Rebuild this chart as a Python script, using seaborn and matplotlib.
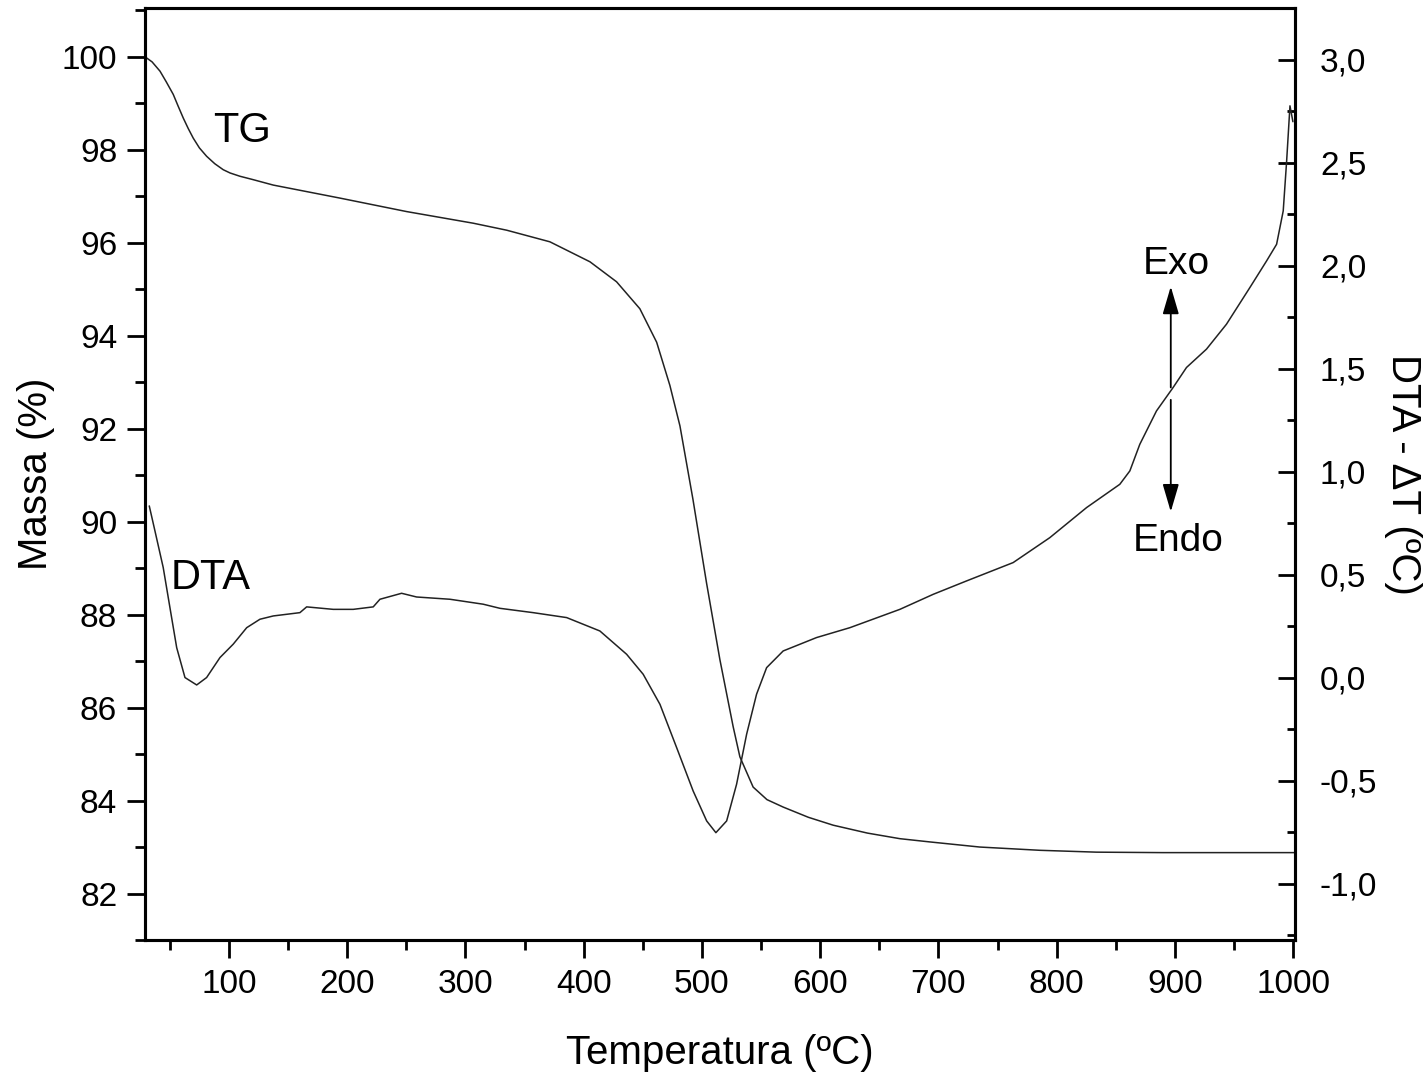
import numpy as np
import pandas as pd
import matplotlib
matplotlib.use("Agg")
import matplotlib.pyplot as plt
import seaborn as sns
from matplotlib.ticker import MultipleLocator, FuncFormatter

# TG curve (mass %)
temp_tg = [29.0, 35.0, 41.7, 47.0, 52.9, 57.0, 61.4, 65.5, 69.8, 75.0, 81.1, 88.0, 95.2,
           101.0, 109.3, 120.0, 137.5, 193.9, 250.3,
           306.6, 334.8, 371.4, 405.3, 427.8, 447.5, 461.7, 472.9, 481.4, 492.4,
           503.9, 515.2, 526.4, 532.1, 543.3, 555.0, 568.7, 590.0, 611.0, 640.0, 667.4, 692.8, 735.0,
           785.8, 833.7, 890.0, 1001.4]
massa_tg = [100.0, 99.89, 99.69, 99.46, 99.19, 98.94, 98.68, 98.46, 98.25, 98.04, 97.86, 97.70, 97.57,
            97.50, 97.43, 97.36, 97.24, 96.96, 96.67,
            96.42, 96.27, 96.02, 95.59, 95.16, 94.58, 93.86, 92.93, 92.06, 90.48,
            88.68, 87.03, 85.59, 84.94, 84.29, 84.02, 83.86, 83.64, 83.47, 83.30, 83.18, 83.11, 83.0,
            82.93, 82.89, 82.88, 82.88]

# DTA curve (delta T)
temp_dta = [32.6, 37.4, 44.4, 50.1, 55.8, 62.8, 72.7, 81.1, 92.4, 103.6, 115.0,
            126.2, 137.5, 160.0, 165.7, 188.2, 205.1, 222.0, 227.7, 246.0, 258.7,
            286.9, 315.0, 329.2, 357.3, 385.6, 413.7, 436.3, 450.3, 464.5, 478.6,
            492.6, 504.0, 511.8, 520.9, 529.3, 537.8, 546.2, 554.7, 568.7, 596.9,
            625.1, 667.4, 695.6, 723.8, 763.2, 794.2, 825.3, 853.4, 861.9, 870.3,
            884.4, 898.5, 909.8, 926.7, 943.6, 963.4, 977.5, 986.0, 991.6, 994.5,
            997.3, 999.8]
dta = [0.835, 0.714, 0.536, 0.341, 0.147, 0.002, -0.034, 0.002, 0.099, 0.164, 0.244,
       0.285, 0.301, 0.317, 0.345, 0.333, 0.333, 0.345, 0.382, 0.411, 0.393,
       0.382, 0.358, 0.338, 0.317, 0.293, 0.228, 0.115, 0.018, -0.128, -0.338,
       -0.549, -0.694, -0.751, -0.694, -0.516, -0.273, -0.079, 0.050, 0.131, 0.196,
       0.244, 0.333, 0.406, 0.471, 0.56, 0.681, 0.827, 0.94, 1.005, 1.134,
       1.296, 1.41, 1.507, 1.596, 1.717, 1.895, 2.024, 2.105, 2.267, 2.51,
       2.777, 2.70]

df_tg = pd.DataFrame({'Temperatura': temp_tg, 'Massa': massa_tg})
df_dta = pd.DataFrame({'Temperatura': temp_dta, 'DTA': dta})

sns.set_theme(style="ticks")
plt.rcParams['font.family'] = ['Liberation Sans', 'DejaVu Sans']
plt.rcParams['text.color'] = 'black'
plt.rcParams['axes.labelcolor'] = 'black'

fig = plt.figure(figsize=(14.23, 10.78), dpi=100)
ax = fig.add_axes([0.1019, 0.128, 0.8081, 0.8646])
ax2 = ax.twinx()

line_col = '#222222'
sns.lineplot(data=df_tg, x='Temperatura', y='Massa', ax=ax, color=line_col, lw=1.1, sort=False)
sns.lineplot(data=df_dta, x='Temperatura', y='DTA', ax=ax2, color=line_col, lw=1.1, sort=False)

ax.set_xlim(29, 1001.5)
ax.set_ylim(81, 101.05)
ax2.set_ylim(-1.272, 3.252)

ax.xaxis.set_major_locator(MultipleLocator(100))
ax.xaxis.set_minor_locator(MultipleLocator(50))
ax.yaxis.set_major_locator(MultipleLocator(2))
ax.yaxis.set_minor_locator(MultipleLocator(1))
ax2.yaxis.set_major_locator(MultipleLocator(0.5))
ax2.yaxis.set_minor_locator(MultipleLocator(0.25))
ax2.yaxis.set_major_formatter(FuncFormatter(lambda v, p: f"{v:.1f}".replace('.', ',')))

for a in (ax, ax2):
    for s in a.spines.values():
        s.set_visible(True)
        s.set_linewidth(2.2)
        s.set_color('black')

ax.tick_params(axis='both', which='major', direction='out', length=13, width=2,
               labelsize=24, colors='black')
ax.tick_params(axis='both', which='minor', direction='out', length=7, width=2, colors='black')
ax.tick_params(axis='y', which='major', pad=7)
ax.tick_params(axis='x', which='major', pad=8)
ax2.tick_params(axis='y', which='major', direction='in', length=12, width=2,
                labelsize=24, pad=18, colors='black')
ax2.tick_params(axis='y', which='minor', direction='in', length=6, width=2, colors='black')

ax.set_xlabel('Temperatura (ºC)', fontsize=29, labelpad=24)
ax.set_ylabel('Massa (%)', fontsize=29, labelpad=5)
ax2.set_ylabel('DTA - ΔT (ºC)', fontsize=29, rotation=270, labelpad=32)

ax.text(111, 98.41, 'TG', fontsize=30, ha='center', va='center')
ax.text(84.8, 88.79, 'DTA', fontsize=30, ha='center', va='center')
ax2.text(900.8, 2.01, 'Exo', fontsize=28, ha='center', va='center')
ax2.text(903, 0.665, 'Endo', fontsize=28, ha='center', va='center')

arrow_style = '-|>,head_length=0.85,head_width=0.25'
ax2.annotate('', xy=(896.5, 1.90), xytext=(896.5, 1.41),
             arrowprops=dict(arrowstyle=arrow_style, color='black', lw=1.3,
                             mutation_scale=20, shrinkA=0, shrinkB=0))
ax2.annotate('', xy=(896.5, 0.807), xytext=(896.5, 1.35),
             arrowprops=dict(arrowstyle=arrow_style, color='black', lw=1.3,
                             mutation_scale=20, shrinkA=0, shrinkB=0))

fig.savefig('out.png', dpi=100)
